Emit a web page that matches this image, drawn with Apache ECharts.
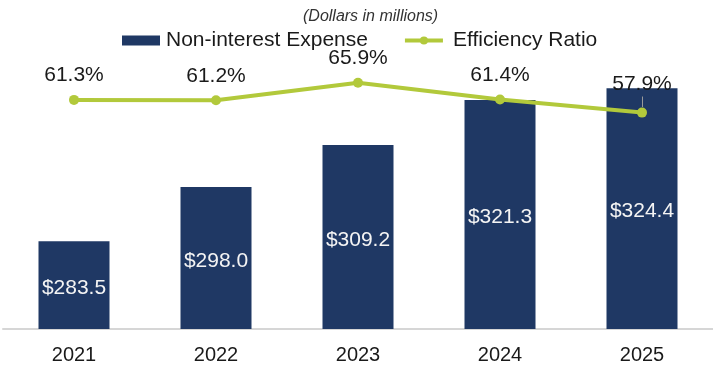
<!DOCTYPE html>
<html>
<head>
<meta charset="utf-8">
<style>
  html, body { margin: 0; padding: 0; background: #ffffff; }
  #chart { width: 713px; height: 368px; }
</style>
<script src="https://cdn.jsdelivr.net/npm/echarts@6/dist/echarts.min.js"></script>
</head>
<body>
<div id="chart"></div>
<script>
// Fiscal years on the category axis
const years = ['2021', '2022', '2023', '2024', '2025'];
// Non-interest expense, $ millions
const expense = [283.5, 298.0, 309.2, 321.3, 324.4];
// Efficiency ratio, percent
const efficiency = [61.3, 61.2, 65.9, 61.4, 57.9];

const FONT = '"Liberation Sans", Arial, sans-serif';
const NAVY = '#1f3864';
const GREEN = '#b2c93b';

const chart = echarts.init(document.getElementById('chart'), null, { renderer: 'canvas' });

const lastIdx = efficiency.length - 1;

chart.setOption({
  animation: false,
  textStyle: { fontFamily: FONT },
  title: {
    text: '(Dollars in millions)',
    left: 298,
    top: 4,
    textStyle: { fontFamily: FONT, fontSize: 16, fontStyle: 'italic', fontWeight: 'normal', color: '#333333' }
  },
  legend: {
    left: 117,
    top: 25,
    itemWidth: 38,
    itemHeight: 10,
    itemGap: 35,
    textStyle: { fontFamily: FONT, fontSize: 21, color: '#1a1a1a', padding: [0, 0, 0, 1] },
    data: [
      { name: 'Non-interest Expense', icon: 'rect' },
      {
        name: 'Efficiency Ratio',
        lineStyle: { width: 4, color: GREEN },
        textStyle: { padding: [0, 0, 0, 5] }
      }
    ]
  },
  grid: { left: 3, right: 0, top: 30, bottom: 39, containLabel: false },
  xAxis: {
    type: 'category',
    data: years,
    axisTick: { show: false },
    axisLine: { show: true, lineStyle: { color: '#d6d6d6', width: 2 } },
    axisLabel: { fontFamily: FONT, fontSize: 20, color: '#1a1a1a', margin: 16 }
  },
  yAxis: [
    { type: 'value', min: 260, max: 340, show: false, splitLine: { show: false } },
    { type: 'value', min: 0, max: 80, show: false, splitLine: { show: false } }
  ],
  series: [
    {
      name: 'Non-interest Expense',
      type: 'bar',
      yAxisIndex: 0,
      data: expense,
      barWidth: 71,
      itemStyle: { color: NAVY },
      label: {
        show: true,
        position: 'inside',
        offset: [0, 3],
        fontFamily: FONT,
        fontSize: 21,
        color: '#f4f4f4',
        formatter: p => '$' + p.value.toFixed(1)
      },
      z: 2
    },
    {
      name: 'Efficiency Ratio',
      type: 'line',
      yAxisIndex: 1,
      data: efficiency,
      symbol: 'circle',
      symbolSize: 10,
      lineStyle: { color: GREEN, width: 4 },
      itemStyle: { color: GREEN },
      label: {
        show: true,
        position: 'top',
        distance: 9,
        fontFamily: FONT,
        fontSize: 21,
        color: '#1a1a1a',
        formatter: p => p.value.toFixed(1) + '%'
      },
      // the last label sits a little higher, tied to its point by a short leader
      labelLayout: p => (p.dataIndex === lastIdx ? { dy: -4 } : {}),
      labelLine: { show: false },
      z: 3
    },
    {
      // leader tick under the final ratio label
      name: 'ratio-leader',
      type: 'line',
      yAxisIndex: 1,
      data: efficiency.map((v, i) => (i === lastIdx ? v : null)),
      symbol: 'none',
      lineStyle: { opacity: 0 },
      silent: true,
      z: 4,
      markLine: {
        silent: true,
        symbol: 'none',
        label: { show: false },
        lineStyle: { color: '#9a9a9a', width: 1, type: 'solid' },
        data: [[
          { coord: [years[lastIdx], efficiency[lastIdx] + 4.3] },
          { coord: [years[lastIdx], efficiency[lastIdx] + 1.5] }
        ]]
      }
    }
  ]
});
</script>
</body>
</html>
